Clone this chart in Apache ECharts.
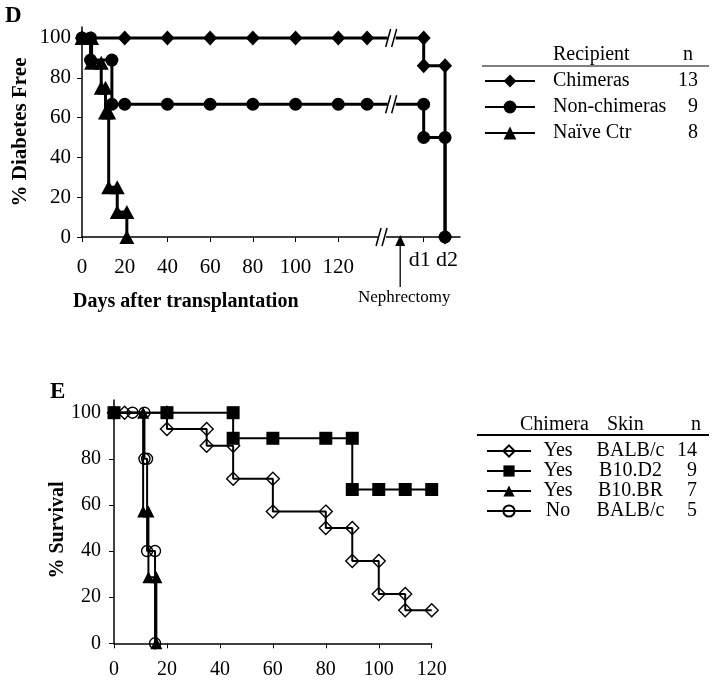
<!DOCTYPE html>
<html><head><meta charset="utf-8">
<script src="https://cdn.jsdelivr.net/npm/echarts@6/dist/echarts.min.js"></script>
<style>html,body{margin:0;padding:0;background:#fff}#c{width:718px;height:687px}</style>
</head><body><div id="c"></div>
<script>
// ---------- Panel D ----------
const dTickValues = [0, 20, 40, 60, 80, 100, 120];
const dYTicks = [0, 20, 40, 60, 80, 100];
const dDayLabels = ['d1', 'd2'];
const dDayPositions = [160, 170];
const dNames = ['Chimeras', 'Non-chimeras', 'Naïve Ctr'];
const dN = [13, 9, 8];
const dChimeras = [[0,100],[20,100],[40,100],[60,100],[80,100],[100,100],[120,100],[133.5,100],[160,100],[160,86],[170,86],[170,0]];
const dNonChimeras = [[0,100],[4,100],[4,88.9],[14,88.9],[14,66.7],[20,66.7],[40,66.7],[60,66.7],[80,66.7],[100,66.7],[120,66.7],[133.5,66.7],[160,66.7],[160,50],[170,50],[170,0]];
const dNaive = [[0,100],[4.5,100],[4.5,87.5],[9,87.5],[9,75],[11,75],[11,62.5],[12.5,62.5],[12.5,25],[16.5,25],[16.5,12.5],[21,12.5],[21,0]];
const dBreaks = [[145,100],[145,66.7],[140.5,0]];
const nephrectomyDay = 149;

// ---------- Panel E ----------
const eXTicks = [0, 20, 40, 60, 80, 100, 120];
const eYTicks = [0, 20, 40, 60, 80, 100];
const eNames = ['Yes BALB/c', 'Yes B10.D2', 'Yes B10.BR', 'No BALB/c'];
const eChimera = ['Yes', 'Yes', 'Yes', 'No'];
const eSkin = ['BALB/c', 'B10.D2', 'B10.BR', 'BALB/c'];
const eN = [14, 9, 7, 5];
const eYesBalb = [[0,100],[4,100],[20,100],[20,92.9],[35,92.9],[35,85.7],[45,85.7],[45,71.4],[60,71.4],[60,57.1],[80,57.1],[80,50],[90,50],[90,35.7],[100,35.7],[100,21.4],[110,21.4],[110,14.3],[120,14.3]];
const eYesD2 = [[0,100],[20,100],[45,100],[45,88.9],[60,88.9],[80,88.9],[90,88.9],[90,66.7],[100,66.7],[110,66.7],[120,66.7]];
const eYesBR = [[0,100],[11,100],[11,57.1],[13,57.1],[13,28.6],[16,28.6],[16,0]];
const eNoBalb = [[0,100],[7,100],[11.5,100],[11.5,80],[12.5,80],[12.5,40],[15.5,40],[15.5,0]];

const SERIF = '"Liberation Serif", "Times New Roman", serif';
const chart = echarts.init(document.getElementById('c'));

function lineSeries(name, data, xi, symbol, size, width, filled) {
  return {
    name, type: 'line', xAxisIndex: xi, yAxisIndex: xi, data,
    symbol, symbolSize: size, showSymbol: true, animation: false,
    lineStyle: { color: '#000', width },
    itemStyle: filled ? { color: '#000' } : { color: 'rgba(255,255,255,0)', borderColor: '#000', borderWidth: 1.4 },
    emphasis: { disabled: true }
  };
}

const axisLineStyle = { lineStyle: { color: '#000', width: 1.5 } };

chart.setOption({
  backgroundColor: '#fff',
  animation: false,
  grid: [
    { left: 82, top: 27, width: 378, height: 210 },
    { left: 114, top: 400, width: 317.7, height: 243.3 }
  ],
  xAxis: [
    { gridIndex: 0, type: 'value', min: 0, max: 177, splitLine: { show: false },
      axisLine: axisLineStyle,
      axisTick: { customValues: dTickValues.concat(dDayPositions), length: 5, lineStyle: { color: '#000', width: 1 } },
      axisLabel: { customValues: dTickValues, margin: 20, color: '#000', fontSize: 21, fontFamily: SERIF } },
    { gridIndex: 1, type: 'value', min: 0, max: 120, interval: 20, splitLine: { show: false },
      axisLine: axisLineStyle,
      axisTick: { customValues: eXTicks, length: 5, lineStyle: { color: '#000', width: 1 } },
      axisLabel: { customValues: eXTicks, margin: 16, color: '#000', fontSize: 20, fontFamily: SERIF } }
  ],
  yAxis: [
    { gridIndex: 0, type: 'value', min: 0, max: 105.5, splitLine: { show: false },
      axisLine: { show: true, lineStyle: { color: '#000', width: 1.5 } },
      axisTick: { show: true, customValues: dYTicks, length: 5, lineStyle: { color: '#000', width: 1 } },
      axisLabel: { customValues: dYTicks, margin: 11, color: '#000', fontSize: 21, fontFamily: SERIF } },
    { gridIndex: 1, type: 'value', min: 0, max: 105.5, splitLine: { show: false },
      axisLine: { show: true, lineStyle: { color: '#000', width: 1.5 } },
      axisTick: { show: true, customValues: eYTicks, length: 5, lineStyle: { color: '#000', width: 1 } },
      axisLabel: { customValues: eYTicks, margin: 13, color: '#000', fontSize: 20, fontFamily: SERIF } }
  ],
  legend: [
    { data: dNames, orient: 'vertical', left: 484, top: 71, padding: 0, itemWidth: 50, itemHeight: 16, itemGap: 6, selectedMode: false,
      formatter: name => '{p| }{a|' + name + '}{n|' + dN[dNames.indexOf(name)] + '}',
      textStyle: { color: '#000', fontFamily: SERIF, fontSize: 20, lineHeight: 16,
        rich: { p: { width: 13 }, a: { width: 100, fontFamily: SERIF, fontSize: 20, lineHeight: 16 }, n: { width: 45, align: 'right', fontFamily: SERIF, fontSize: 20, lineHeight: 16 } } } },
    { data: eNames, orient: 'vertical', left: 486, top: 441, padding: 0, itemWidth: 44, itemHeight: 14, itemGap: 0, selectedMode: false,
      formatter: name => { const i = eNames.indexOf(name); return '{c|' + eChimera[i] + '}{g| }{s|' + eSkin[i] + '}{n|' + eN[i] + '}'; },
      textStyle: { color: '#000', fontFamily: SERIF, fontSize: 20, lineHeight: 14,
        rich: { c: { width: 44, align: 'right', fontFamily: SERIF, fontSize: 20, lineHeight: 14 }, g: { width: 6 },
          s: { width: 89, fontFamily: SERIF, fontSize: 20, lineHeight: 14 }, n: { width: 22, align: 'right', fontFamily: SERIF, fontSize: 20, lineHeight: 14 } } } }
  ],
  series: [
    lineSeries('Naïve Ctr', dNaive, 0, 'triangle', [15, 14], 3, true),
    lineSeries('Non-chimeras', dNonChimeras, 0, 'circle', 13, 3, true),
    lineSeries('Chimeras', dChimeras, 0, 'diamond', [14, 15], 3, true),
    { type: 'custom', xAxisIndex: 0, yAxisIndex: 0, clip: false, z: 10, silent: true, animation: false,
      data: dBreaks,
      renderItem: (params, api) => {
        const p = api.coord([api.value(0), api.value(1)]);
        const h = 9;
        return { type: 'group', children: [
          { type: 'rect', shape: { x: p[0] - 4, y: p[1] - 3, width: 8, height: 6 }, style: { fill: '#fff' } },
          { type: 'line', shape: { x1: p[0] - 6, y1: p[1] + h, x2: p[0] - 1, y2: p[1] - h }, style: { stroke: '#000', lineWidth: 1.5 } },
          { type: 'line', shape: { x1: p[0] + 0, y1: p[1] + h, x2: p[0] + 5, y2: p[1] - h }, style: { stroke: '#000', lineWidth: 1.5 } }
        ] };
      } },
    lineSeries('Yes BALB/c', eYesBalb, 1, 'diamond', [13, 13], 2, false),
    lineSeries('No BALB/c', eNoBalb, 1, 'circle', 11, 2, false),
    lineSeries('Yes B10.BR', eYesBR, 1, 'triangle', [12, 12], 2, true),
    lineSeries('Yes B10.D2', eYesD2, 1, 'rect', [13, 13], 2, true)
  ]
});

const arrowBase = chart.convertToPixel({ xAxisIndex: 0, yAxisIndex: 0 }, [nephrectomyDay, 0]);
const ax = arrowBase[0], ay = arrowBase[1];

const graphics = [
  { type: 'text', left: 5, top: 5, style: { text: 'D', font: 'bold 23px ' + SERIF, fill: '#000' } },
  { type: 'text', left: 50, top: 381, style: { text: 'E', font: 'bold 23px ' + SERIF, fill: '#000' } },
  { type: 'text', x: 21, y: 132, rotation: Math.PI / 2, style: { text: '% Diabetes Free', font: 'bold 21px ' + SERIF, fill: '#000', align: 'center', verticalAlign: 'middle' } },
  { type: 'text', x: 58, y: 530, rotation: Math.PI / 2, style: { text: '% Survival', font: 'bold 20px ' + SERIF, fill: '#000', align: 'center', verticalAlign: 'middle' } },
  { type: 'text', x: 73, y: 302, style: { text: 'Days after transplantation', font: 'bold 20px ' + SERIF, fill: '#000', align: 'left', verticalAlign: 'middle' } },
  // Nephrectomy arrow
  { type: 'line', shape: { x1: ax, y1: ay + 50, x2: ax, y2: ay + 8 }, style: { stroke: '#000', lineWidth: 1.3 } },
  { type: 'polygon', shape: { points: [[ax, ay - 2], [ax - 5, ay + 9], [ax + 5, ay + 9]] }, style: { fill: '#000' } },
  { type: 'text', x: ax + 4, y: ay + 61, style: { text: 'Nephrectomy', font: '17px ' + SERIF, fill: '#000', align: 'center', verticalAlign: 'middle' } },
  // Legend D header
  { type: 'text', x: 553, y: 55, style: { text: 'Recipient', font: '20px ' + SERIF, fill: '#000', align: 'left', verticalAlign: 'middle' } },
  { type: 'text', x: 688, y: 55, style: { text: 'n', font: '20px ' + SERIF, fill: '#000', align: 'center', verticalAlign: 'middle' } },
  { type: 'line', shape: { x1: 482, y1: 66, x2: 709, y2: 66 }, style: { stroke: '#555', lineWidth: 1.5 } },
  // Legend E header
  { type: 'text', x: 520, y: 425, style: { text: 'Chimera', font: '20px ' + SERIF, fill: '#000', align: 'left', verticalAlign: 'middle' } },
  { type: 'text', x: 607, y: 425, style: { text: 'Skin', font: '20px ' + SERIF, fill: '#000', align: 'left', verticalAlign: 'middle' } },
  { type: 'text', x: 696, y: 425, style: { text: 'n', font: '20px ' + SERIF, fill: '#000', align: 'center', verticalAlign: 'middle' } },
  { type: 'line', shape: { x1: 477, y1: 435, x2: 709, y2: 435 }, style: { stroke: '#000', lineWidth: 2 } }
];
// d1 / d2 labels below the x axis, placed through the axis scale
const dDayNudge = [-4, 2];
dDayPositions.forEach((v, k) => {
  const p = chart.convertToPixel({ xAxisIndex: 0, yAxisIndex: 0 }, [v, 0]);
  graphics.push({ type: 'text', x: p[0] + dDayNudge[k], y: p[1] + 23, style: { text: dDayLabels[k], font: '22px ' + SERIF, fill: '#000', align: 'center', verticalAlign: 'middle' } });
});
chart.setOption({ graphic: graphics });
</script></body></html>
